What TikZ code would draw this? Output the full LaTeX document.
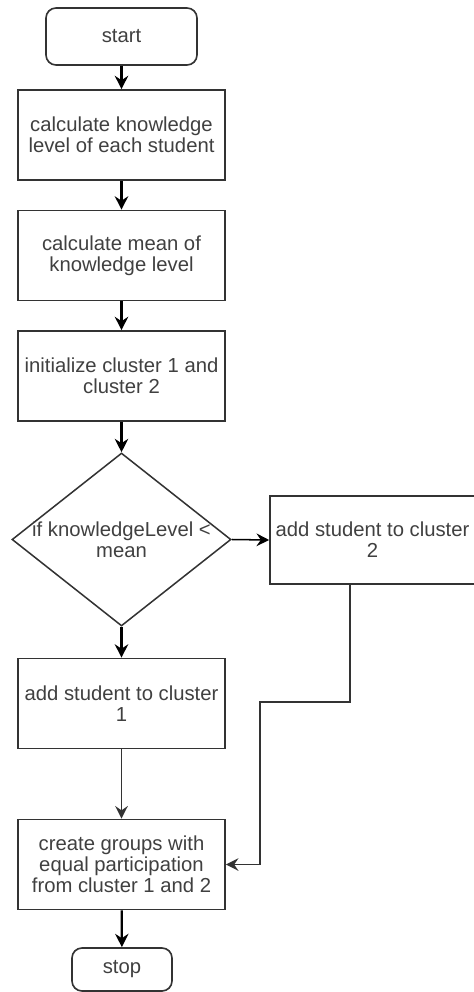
\documentclass[tikz,border=0pt]{standalone}
\usepackage{fontspec}
\setmainfont{Liberation Sans}
\usepackage{xcolor}
\usetikzlibrary{arrows.meta,positioning,shapes.geometric}
\definecolor{edge}{HTML}{333333}
\definecolor{ink}{HTML}{404040}

\begin{document}
\begin{tikzpicture}[
          x=0.03cm,y=-0.03cm,
          every node/.style={font=\fontsize{17.3}{17.8}\selectfont,text=ink},
          box/.style={draw=edge,line width=1.4pt,fill=white,
                      minimum width=6.21cm,minimum height=2.7cm,
                      align=center,inner sep=2pt},
          term/.style={draw=edge,line width=1.4pt,rounded corners=0.3cm,
                       align=center,inner sep=2pt},
          decide/.style={diamond,draw=edge,line width=1.3pt,
                         minimum width=6.57cm,minimum height=5.19cm,inner sep=0pt},
          arr/.style={-{Stealth[length=4mm,width=4mm,inset=1.3mm]},line width=1.9pt,black},
          thin/.style={-{Stealth[length=3.8mm,width=3.8mm,inset=1.3mm]},line width=1.3pt,edge},
      ]
        \useasboundingbox (0,0) rectangle (473,992);
        \node[term,minimum width=4.53cm,minimum height=1.71cm] (start) at (121.5,36.5) {start};
        \node[box] (level) at (121.5,135) {calculate knowledge\\level of each student};
        \node[box] (mean) at (121.5,255.5) {calculate mean of\\knowledge level};
        \node[box] (init) at (121.5,376) {initialize cluster 1 and\\cluster 2};
        \node[decide,label={[align=center,inner sep=0pt]center:{if knowledgeLevel <\\mean}}]
          (test) at (121.5,539.5) {};
        \node[box,minimum width=6.15cm,minimum height=2.64cm] (addtwo) at (372.5,540)
          {add student to cluster\\2};
        \node[box] (addone) at (121.5,703.5) {add student to cluster\\1};
        \node[box] (groups) at (121.5,864.5)
          {create groups with\\equal participation\\from cluster 1 and 2};
        \node[term,minimum width=3cm,minimum height=1.29cm] (stop) at (122,969.5) {stop};
        \coordinate (bend1) at (350,702);
        \coordinate (bend2) at (260,702);
        \draw[arr] (start) -- (level);
        \draw[arr] (level) -- (mean);
        \draw[arr] (mean) -- (init);
        \draw[arr] (init) -- (test);
        \draw[arr] (test) -- (addone);
        \draw[thin,black] (test.east) -- (addtwo.west);
        \draw[thin] (addone) -- (groups);
        \draw[thin] (addtwo.south -| bend1) -- (bend1) -- (bend2) |- (groups.east);
        \draw[arr] (groups) -- (stop);
      \end{tikzpicture}
\end{document}
